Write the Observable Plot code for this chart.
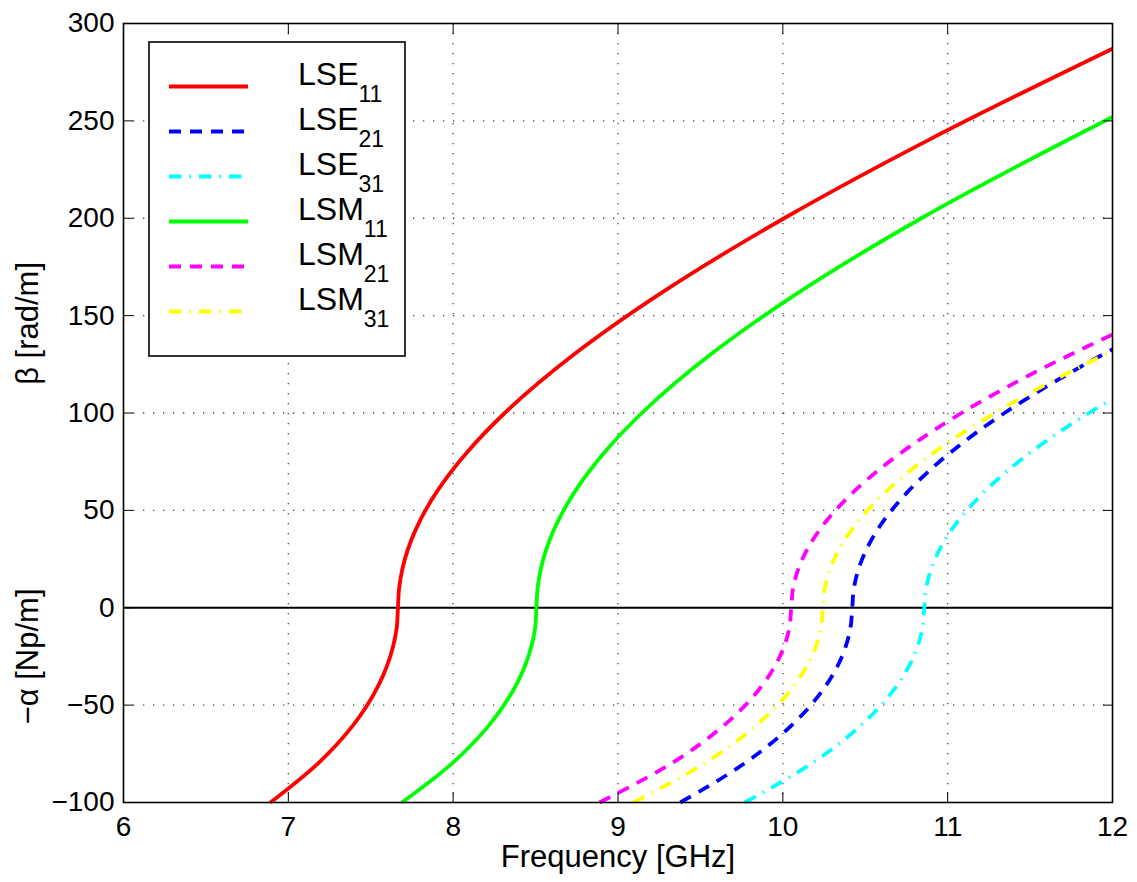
<!DOCTYPE html>
<html><head><meta charset="utf-8">
<script src="https://cdn.jsdelivr.net/npm/d3@7"></script>
<script src="https://cdn.jsdelivr.net/npm/@observablehq/plot@0.6"></script>
<style>
body{margin:0;background:#fff;}
#wrap{position:relative;width:1137px;height:882px;font-family:"Liberation Sans",Arial,sans-serif;}
</style></head><body><div id="wrap"></div>
<script>
// ---- tick labels / axes ----
const xTicks = [6, 7, 8, 9, 10, 11, 12];
const yTicks = [-100, -50, 0, 50, 100, 150, 200, 250, 300];
const xGrid = [7, 8, 9, 10, 11];
const yGrid = [-50, 50, 100, 150, 200, 250];
const xLabel = "Frequency [GHz]";
const yLabelBeta = "β [rad/m]";
const yLabelAlpha = "−α [Np/m]";

// ---- series ----
const seriesMain = ["LSE", "LSE", "LSE", "LSM", "LSM", "LSM"];
const seriesSub = ["11", "21", "31", "11", "21", "31"];
const seriesColor = ["#ff0000", "#0000ff", "#00ffff", "#00ff00", "#ff00ff", "#ffff00"];
const seriesDash = [null, "12,9", "12.5,8,1.5,8", null, "12,9", "12.5,8,1.5,8"];

// frequency (GHz) and value (beta above 0, -alpha below 0)
const lse11F = [6.891, 7.179, 7.396, 7.546, 7.635, 7.658, 7.665, 7.672, 7.692, 7.772, 7.904, 8.086, 8.313, 8.732, 9.233, 10.008, 10.880, 12.0];
const lse11V = [-100, -80, -60, -40, -20, -10, 0, 10, 20, 40, 60, 80, 100, 130, 160, 200, 240, 287];
const lse21F = [9.378, 9.766, 10.058, 10.261, 10.381, 10.411, 10.421, 10.431, 10.460, 10.574, 10.763, 11.021, 11.345, 11.729, 12.0];
const lse21V = [-100, -80, -60, -40, -20, -10, 0, 10, 20, 40, 60, 80, 100, 120, 132.7];
const lse31F = [9.769, 10.174, 10.479, 10.692, 10.817, 10.848, 10.858, 10.869, 10.900, 11.024, 11.228, 11.507, 11.857, 12.0];
const lse31V = [-100, -80, -60, -40, -20, -10, 0, 10, 20, 40, 60, 80, 100, 107.3];
const lsm11F = [7.689, 7.992, 8.221, 8.380, 8.474, 8.498, 8.505, 8.512, 8.532, 8.611, 8.741, 8.920, 9.145, 9.561, 10.062, 10.840, 12.0];
const lsm11V = [-100, -80, -60, -40, -20, -10, 0, 10, 20, 40, 60, 80, 100, 130, 160, 200, 252];
const lsm21F = [8.887, 9.323, 9.648, 9.874, 10.007, 10.040, 10.051, 10.062, 10.094, 10.223, 10.435, 10.724, 11.084, 11.509, 12.0];
const lsm21V = [-100, -80, -60, -40, -20, -10, 0, 10, 20, 40, 60, 80, 100, 120, 140.3];
const lsm31F = [9.092, 9.523, 9.844, 10.068, 10.200, 10.232, 10.243, 10.254, 10.287, 10.417, 10.631, 10.922, 11.286, 11.716, 12.0];
const lsm31V = [-100, -80, -60, -40, -20, -10, 0, 10, 20, 40, 60, 80, 100, 120, 131.9];

const seriesF = [lse11F, lse21F, lse31F, lsm11F, lsm21F, lsm31F];
const seriesV = [lse11V, lse21V, lse31V, lsm11V, lsm21V, lsm31V];

// label anchor values (data units on y) for the two y-axis label halves
const yLabelAt = [146, -25];

const W = 1137, H = 882;
const mL = 123, mR = 25, mT = 23, mB = 80;
const FONT = '"Liberation Sans", Arial, sans-serif';

const fmt = d => d < 0 ? "\u2212" + Math.abs(d) : String(d);

const lineMarks = seriesF.map((F, i) => {
  const rows = F.map((f, j) => ({f, v: seriesV[i][j]}));
  const opts = {x: "f", y: "v", stroke: seriesColor[i], strokeWidth: 3.8, curve: "monotone-y", strokeLinecap: "butt"};
  if (seriesDash[i]) opts.strokeDasharray = seriesDash[i];
  return Plot.line(rows, opts);
});

const gridStyle = {stroke: "#444", strokeOpacity: 1, strokeWidth: 1.3, strokeDasharray: "1.3,8.7"};

const chart = Plot.plot({
  width: W, height: H,
  marginLeft: mL, marginRight: mR, marginTop: mT, marginBottom: mB,
  style: {fontFamily: FONT, color: "black", background: "white", overflow: "visible"},
  x: {domain: [6, 12], ticks: xTicks},
  y: {domain: [-100, 300], ticks: yTicks},
  marks: [
    Plot.gridX(xGrid, gridStyle),
    Plot.gridY(yGrid, gridStyle),
    Plot.ruleY([0], {stroke: "black", strokeWidth: 2.2}),
    ...lineMarks,
    Plot.axisX(xTicks, {anchor: "bottom", tickSize: 0, tickPadding: 14, fontSize: 28, tickFormat: fmt, label: null}),
    Plot.axisY(yTicks, {anchor: "left", tickSize: 0, tickPadding: 9, fontSize: 28, tickFormat: fmt, label: null}),
    Plot.axisX(xTicks, {anchor: "bottom", tickSize: -10, tickFormat: () => "", label: null}),
    Plot.axisX(xTicks, {anchor: "top", tickSize: -10, tickFormat: () => "", label: null}),
    Plot.axisY(yTicks, {anchor: "left", tickSize: -10, tickFormat: () => "", label: null}),
    Plot.axisY(yTicks, {anchor: "right", tickSize: -10, tickFormat: () => "", label: null}),
    Plot.frame({stroke: "black", strokeWidth: 1.6}),
    Plot.text([xLabel], {frameAnchor: "bottom", dy: 55, fontSize: 31, lineAnchor: "middle", textAnchor: "middle", text: d => d}),
    Plot.text([yLabelBeta], {frameAnchor: "left", y: () => yLabelAt[0], dx: -95, rotate: -90, fontSize: 31, textAnchor: "middle", lineAnchor: "middle", text: d => d}),
    Plot.text([yLabelAlpha], {frameAnchor: "left", y: () => yLabelAt[1], dx: -95, rotate: -90, fontSize: 31, textAnchor: "middle", lineAnchor: "middle", text: d => d})
  ]
});

const wrap = document.getElementById("wrap");
wrap.appendChild(chart);

// ---- legend (inside the axes, top-left) ----
const LW = 256, LH = 314;
const leg = d3.create("svg").attr("width", LW + 2).attr("height", LH + 2)
  .style("position", "absolute").style("left", "148px").style("top", "41px");
leg.append("rect").attr("x", 1).attr("y", 1).attr("width", LW).attr("height", LH)
  .attr("fill", "white").attr("stroke", "black").attr("stroke-width", 1.6);
seriesMain.forEach((m, i) => {
  const by = 44 + 45 * i;
  const ln = leg.append("line").attr("x1", 21).attr("x2", 100).attr("y1", by + 1.5).attr("y2", by + 1.5)
    .attr("stroke", seriesColor[i]).attr("stroke-width", 3.8);
  if (seriesDash[i]) ln.attr("stroke-dasharray", seriesDash[i]);
  const t = leg.append("text").attr("x", 150).attr("y", by)
    .attr("font-family", FONT).attr("font-size", 32).attr("fill", "black");
  t.append("tspan").text(m);
  t.append("tspan").attr("dy", 16.5).attr("font-size", 23).text(seriesSub[i]);
});
wrap.appendChild(leg.node());
</script>
</body></html>
